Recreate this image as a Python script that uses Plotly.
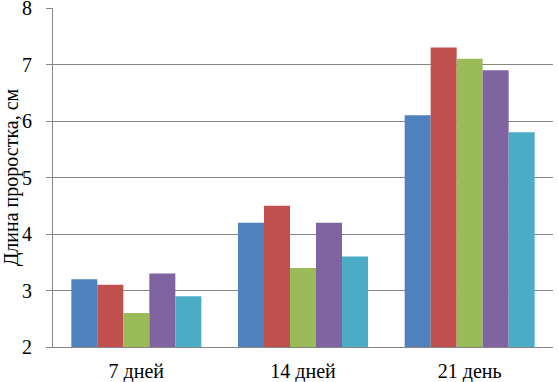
import plotly.graph_objects as go

categories = ["7 дней", "14 дней", "21 день"]
series_values = [
    [3.2, 4.2, 6.1],
    [3.1, 4.5, 7.3],
    [2.6, 3.4, 7.1],
    [3.3, 4.2, 6.9],
    [2.9, 3.6, 5.8],
]
colors = ["#4F81BD", "#C0504D", "#9BBB59", "#8064A2", "#4BACC6"]
y_ticks = [2, 3, 4, 5, 6, 7, 8]

fig = go.Figure()
for i, vals in enumerate(series_values):
    fig.add_trace(go.Bar(x=categories, y=vals, marker=dict(color=colors[i], line=dict(width=0)),
                         showlegend=False, hoverinfo="skip"))

font = "Liberation Serif"
fig.update_layout(
    width=559, height=382,
    margin=dict(l=53, r=6, t=8, b=35),
    barmode="group", bargap=0.22, bargroupgap=0,
    plot_bgcolor="white", paper_bgcolor="white",
    font=dict(family=font, size=20, color="black"),
    xaxis=dict(showline=True, linecolor="#868686", linewidth=1, ticks="", showgrid=False,
               tickfont=dict(size=20), automargin=False, ticklabelstandoff=6),
    yaxis=dict(range=[2, 8.0001], tickvals=y_ticks, showgrid=True, gridcolor="#868686", gridwidth=1,
               showline=True, linecolor="#868686", linewidth=1, ticks="outside", ticklen=6,
               tickcolor="#868686", zeroline=False, tickfont=dict(size=20), automargin=False,
               ticklabelstandoff=10, ticklabeloverflow="allow",
               title=dict(text="Длина проростка, см", font=dict(size=20), standoff=6)),
)
fig.write_html("out.html", config={"displayModeBar": False},
               post_script="document.body.style.margin='0';")
